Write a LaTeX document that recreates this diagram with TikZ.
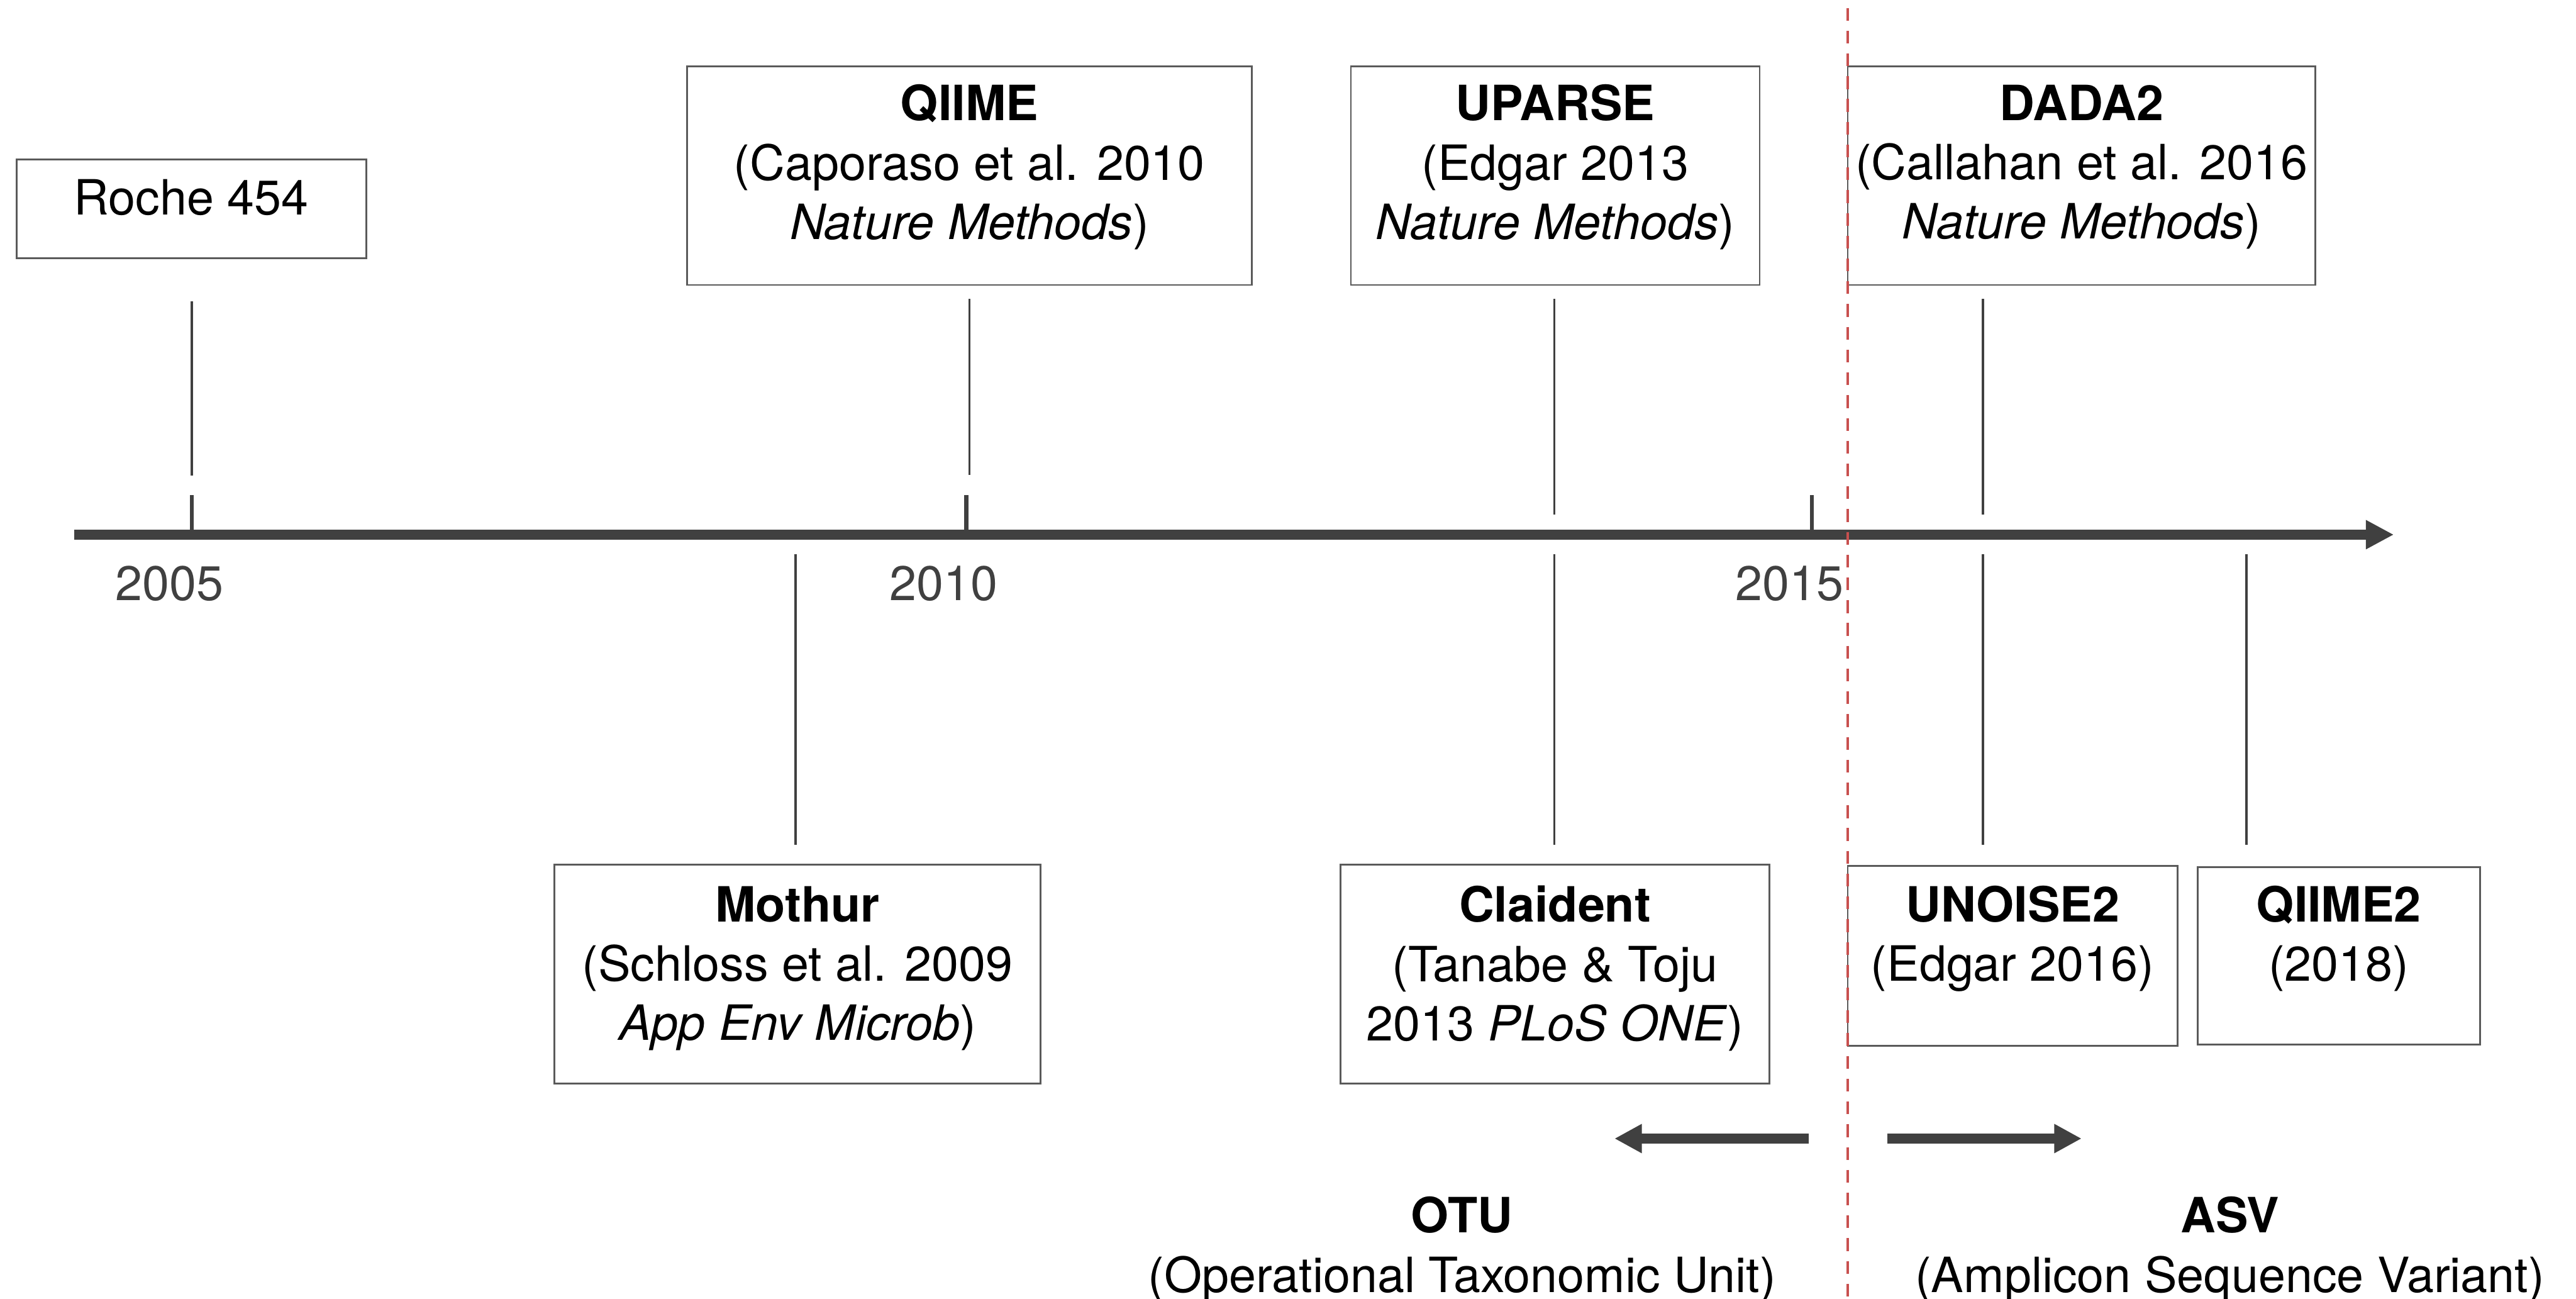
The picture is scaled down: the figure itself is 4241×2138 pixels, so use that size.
\documentclass[tikz,border=0pt]{standalone}
\usepackage{fontspec}
\setmainfont{TeX Gyre Heros}
\usetikzlibrary{arrows.meta}
\definecolor{ink}{HTML}{404040}
\definecolor{frame}{HTML}{5A5A5A}
\definecolor{divider}{HTML}{C8504F}
\begin{document}
\begin{tikzpicture}[x=0.2pt,y=-0.2pt,
  box/.style={draw=frame, line width=0.6pt, inner sep=0pt},
  txt/.style={inner sep=0pt, align=center, font=\fontsize{16}{19.5}\selectfont},
  year/.style={inner sep=0pt, text=ink, font=\fontsize{16}{19.5}\selectfont},
  stem/.style={draw=ink, line width=0.8pt},
  yeartick/.style={draw=ink, line width=1.3pt},
  axis/.style={draw=ink, line width=3.2pt, -{Triangle[length=9.2pt,width=9pt]}},
  trendarrow/.style={draw=ink, line width=3.2pt, -{Triangle[length=9pt,width=9pt]}},
  divline/.style={draw=divider, line width=1pt, dash pattern=on 4.2pt off 3.3pt}]
\useasboundingbox (0,0) rectangle (4241,2138);

% ---- boxes above the axis
\node[box, minimum width=115.2pt, minimum height=32.6pt] (roche) at (315,343.5) {};
\node[txt] (rocheT) at (315,325) {Roche 454};

\node[box, minimum width=186pt, minimum height=72pt] (qiime) at (1596,289) {};
\node[txt] (qiimeT) at (1596,275) {\textbf{QIIME}\\(Caporaso et al. 2010\\\textit{Nature Methods})};

\node[box, minimum width=134.6pt, minimum height=72pt] (uparse) at (2560.5,289) {};
\node[txt] (uparseT) at (2560.5,275) {\textbf{UPARSE}\\(Edgar 2013\\\textit{Nature Methods})};

\node[box, minimum width=154pt, minimum height=72pt] (dada) at (3427,289) {};
\node[txt] (dadaT) at (3427,275) {\textbf{DADA2}\\(Callahan et al. 2016\\\textit{Nature Methods})};

% ---- boxes below the axis
\node[box, minimum width=160pt, minimum height=72pt] (mothur) at (1313,1603) {};
\node[txt] (mothurT) at (1313,1594) {\textbf{Mothur}\\(Schloss et al. 2009\\\textit{App Env Microb})};

\node[box, minimum width=141.2pt, minimum height=72pt] (claident) at (2560,1603) {};
\node[txt] (claidentT) at (2560,1594) {\textbf{Claident}\\(Tanabe \& Toju\\2013 \textit{PLoS ONE})};

\node[box, minimum width=108.6pt, minimum height=59.2pt] (unoise) at (3313.5,1573) {};
\node[txt] (unoiseT) at (3313.5,1545) {\textbf{UNOISE2}\\(Edgar 2016)};

\node[box, minimum width=93pt, minimum height=58.4pt] (qiimetwo) at (3850.5,1573) {};
\node[txt] (qiimetwoT) at (3850.5,1545) {\textbf{QIIME2}\\(2018)};

% ---- time axis
\coordinate (axisL) at (122,880);
\coordinate (axisR) at (3941,880);
\draw[axis] (axisL) -- (axisR);

\coordinate (t05a) at (316,815);   \coordinate (t05b) at (316,874);
\coordinate (t10a) at (1591,815);  \coordinate (t10b) at (1591,874);
\coordinate (t15a) at (2983,815);  \coordinate (t15b) at (2983,874);
\draw[yeartick] (t05a) -- (t05b);
\draw[yeartick] (t10a) -- (t10b);
\draw[yeartick] (t15a) -- (t15b);

\node[year] (y05) at (279,961) {2005};
\node[year] (y10) at (1554,961) {2010};
\node[year] (y15) at (2946,961) {2015};

% ---- stems from the axis to the boxes
\coordinate (sRa) at (316,496);   \coordinate (sRb) at (316,783);
\coordinate (sQa) at (1596,492);  \coordinate (sQb) at (1596,782);
\coordinate (sUa) at (2559,492);  \coordinate (sUb) at (2559,847);
\coordinate (sDa) at (3265,492);  \coordinate (sDb) at (3265,847);
\coordinate (sMa) at (1310,912);  \coordinate (sMb) at (1310,1390);
\coordinate (sCa) at (2559,912);  \coordinate (sCb) at (2559,1390);
\coordinate (sNa) at (3265,912);  \coordinate (sNb) at (3265,1390);
\coordinate (sTa) at (3698,912);  \coordinate (sTb) at (3698,1390);
\foreach \a/\b in {sRa/sRb,sQa/sQb,sUa/sUb,sDa/sDb,sMa/sMb,sCa/sCb,sNa/sNb,sTa/sTb}
  \draw[stem] (\a) -- (\b);

% ---- OTU / ASV arrows and labels
\coordinate (otuFrom) at (2978,1874); \coordinate (otuTo) at (2658,1874);
\coordinate (asvFrom) at (3107,1874); \coordinate (asvTo) at (3427,1874);
\draw[trendarrow] (otuFrom) -- (otuTo);
\draw[trendarrow] (asvFrom) -- (asvTo);

\node[txt] (otu) at (2407,2057) {\textbf{OTU}\\(Operational Taxonomic Unit)};
\node[txt] (asv) at (3671,2057) {\textbf{ASV}\\(Amplicon Sequence Variant)};

% ---- dividing line
\coordinate (divTop) at (3042,13);
\coordinate (divBot) at (3042,2138);
\draw[divline] (divTop) -- (divBot);
\end{tikzpicture}
\end{document}
